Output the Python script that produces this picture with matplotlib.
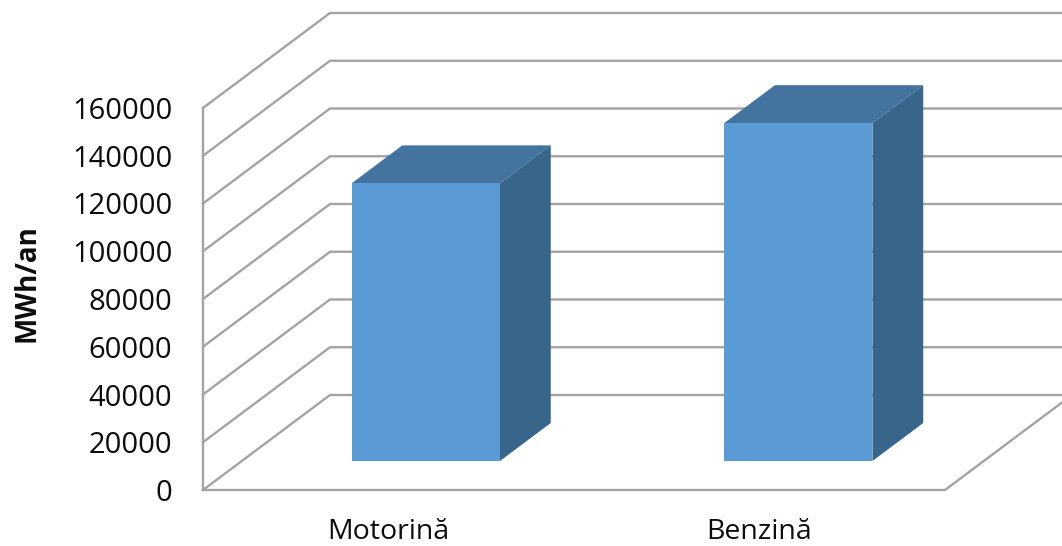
import matplotlib
matplotlib.use("Agg")
import matplotlib.pyplot as plt
from matplotlib.patches import Polygon

categories = ["Motorină", "Benzină"]
values = [116300, 141500]
y_ticks = [0, 20000, 40000, 60000, 80000, 100000, 120000, 140000, 160000]
y_label = "MWh/an"

W, H = 1062, 546
plt.rcParams["font.family"] = ["Open Sans", "DejaVu Sans"]
fig = plt.figure(figsize=(W / 100, H / 100), dpi=100)
L, R, B, T = 203, 945, 490, 108
ax = fig.add_axes([L / W, 1 - B / H, (R - L) / W, (B - T) / H])
ax.set_xlim(0, 2)
ax.set_ylim(0, 160000)
ax.patch.set_alpha(0)
for s in ax.spines.values():
    s.set_visible(False)

PXX = (R - L) / 2
PXY = (B - T) / 160000
DX, DY = 127 / PXX, 95 / PXY  # full floor depth in data units


def p(x, y, d):
    return (x + d * DX, y + d * DY)


GRID = "#A3A3A3"
LW = 1.7
for v in y_ticks:
    ax.plot(*zip(p(0, v, 0), p(0, v, 1), p(2.2, v, 1)), color=GRID, lw=LW,
            clip_on=False, solid_joinstyle="miter", zorder=1)
ax.plot(*zip(p(0, 0, 0), p(2, 0, 0), p(2, 0, 1)), color=GRID, lw=LW, clip_on=False, zorder=1)
ax.plot([0, 0], [0, 160000], color=GRID, lw=LW, clip_on=False, zorder=1)

FRONT, TOP, SIDE = "#5B9BD5", "#44739F", "#38658A"
width = 0.4
d0, d1 = 0.305, 0.705
centers = [0.496, 1.5]
for c, v in zip(centers, values):
    x0, x1 = c - width / 2, c + width / 2
    ax.add_patch(Polygon([p(x0, 0, d0), p(x1, 0, d0), p(x1, v, d0), p(x0, v, d0)],
                         fc=FRONT, ec="none", zorder=4, clip_on=False))
    ax.add_patch(Polygon([p(x0, v, d0), p(x1, v, d0), p(x1, v, d1), p(x0, v, d1)],
                         fc=TOP, ec="none", zorder=3, clip_on=False))
    ax.add_patch(Polygon([p(x1, 0, d0), p(x1, 0, d1), p(x1, v, d1), p(x1, v, d0)],
                         fc=SIDE, ec="none", zorder=3, clip_on=False))

ax.set_yticks(y_ticks)
ax.set_yticklabels([str(v) for v in y_ticks], fontsize=21, color="#0D0D0D")
ax.tick_params(axis="y", length=0, pad=22)
ax.set_xticks([0.5, 1.5])
ax.set_xticklabels(categories, fontsize=20.5, color="#0D0D0D")
ax.tick_params(axis="x", length=0, pad=20)
fig.text(27 / W, 1 - 283.5 / H, y_label, rotation=90, fontsize=20, fontweight="bold",
         ha="center", va="center", color="#0D0D0D")
fig.savefig("out.png", dpi=100)
